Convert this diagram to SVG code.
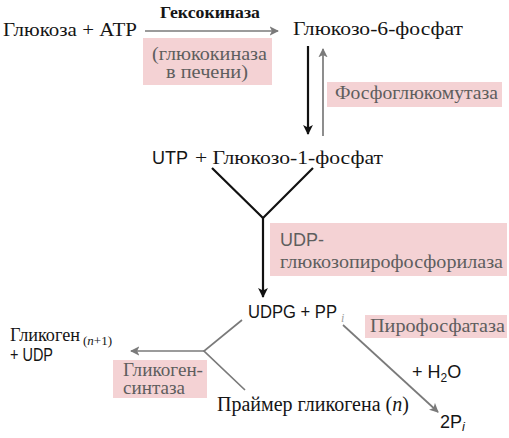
<svg xmlns="http://www.w3.org/2000/svg" width="509" height="438" viewBox="0 0 509 438">
<style>
.s{font-family:'Liberation Serif','Times New Roman',serif;font-size:19.5px;fill:#151515}
.ss{font-family:'Liberation Sans','DejaVu Sans',sans-serif;font-size:18px;fill:#151515}
.e{font-family:'Liberation Serif','Times New Roman',serif;font-size:18.5px;fill:#5e5e5e}
.es{font-family:'Liberation Sans','DejaVu Sans',sans-serif;font-size:18px;fill:#5e5e5e}
.box{fill:#f4d2d4}
.bk{stroke:#111;stroke-width:2.2;fill:none}
.gr{stroke:#7a7a7a;stroke-width:1.7;fill:none}
</style>
<defs>
<marker id="ab" viewBox="0 0 10 10" refX="9" refY="5" markerWidth="4.5" markerHeight="5" orient="auto" markerUnits="strokeWidth"><path d="M0,0 L10,5 L0,10 L2.5,5 z" fill="#111"/></marker>
<marker id="ag" viewBox="0 0 10 10" refX="9" refY="5" markerWidth="5.5" markerHeight="5.5" orient="auto" markerUnits="strokeWidth"><path d="M0,0 L10,5 L0,10 L2.5,5 z" fill="#7a7a7a"/></marker>
</defs>

<g id="connectors">
<line class="gr" x1="145" y1="31" x2="278" y2="31" marker-end="url(#ag)"/>
<line class="bk" x1="308" y1="46" x2="308" y2="134" marker-end="url(#ab)"/>
<line class="gr" x1="323" y1="136" x2="323" y2="49" marker-end="url(#ag)"/>
<polyline class="bk" points="212,168 263,218 313,168"/>
<line class="bk" x1="263" y1="217" x2="263" y2="297" marker-end="url(#ab)"/>
<polyline class="gr" points="242,320 204,351 245,390"/>
<line class="gr" x1="205" y1="351" x2="131" y2="351" marker-end="url(#ag)"/>
<line class="gr" x1="343" y1="325" x2="438" y2="412" marker-end="url(#ag)"/>
</g>

<g id="n-glucose-atp">
<text class="s" x="3" y="36" textLength="134" lengthAdjust="spacingAndGlyphs">Глюкоза + АТР</text>
</g>
<g id="e-hexokinase">
<text class="s" x="160" y="18" style="font-weight:bold;font-size:17px" textLength="100" lengthAdjust="spacingAndGlyphs">Гексокиназа</text>
</g>
<g id="e-glucokinase">
<rect class="box" x="143" y="38" width="129" height="47"/>
<text class="e" x="152" y="60" textLength="115" lengthAdjust="spacingAndGlyphs">(глюкокиназа</text>
<text class="e" x="166" y="78" textLength="82" lengthAdjust="spacingAndGlyphs">в печени)</text>
</g>
<g id="n-g6p">
<text class="s" x="293" y="35" textLength="170" lengthAdjust="spacingAndGlyphs">Глюкозо-6-фосфат</text>
</g>
<g id="e-pgm">
<rect class="box" x="327" y="82" width="175" height="25"/>
<text class="e" x="335" y="99" textLength="163" lengthAdjust="spacingAndGlyphs">Фосфоглюкомутаза</text>
</g>
<g id="n-utp-g1p">
<text class="ss" x="152" y="164" textLength="36" lengthAdjust="spacingAndGlyphs">UTP</text>
<text class="s" x="195" y="164" textLength="188" lengthAdjust="spacingAndGlyphs">+ Глюкозо-1-фосфат</text>
</g>
<g id="e-udpgpp">
<rect class="box" x="270" y="223" width="237" height="53"/>
<text class="es" x="280" y="246" textLength="44" lengthAdjust="spacingAndGlyphs">UDP-</text>
<text class="e" x="280" y="268" textLength="223" lengthAdjust="spacingAndGlyphs">глюкозопирофосфорилаза</text>
</g>
<g id="n-udpg-ppi">
<text class="ss" x="248" y="318" textLength="89" lengthAdjust="spacingAndGlyphs">UDPG + PP</text>
<text x="341" y="322" style="font-family:'Liberation Serif',serif;font-style:italic;font-size:12px;fill:#a0a0a0">i</text>
</g>
<g id="e-pyrophosphatase">
<rect class="box" x="365" y="315" width="142" height="23"/>
<text class="e" x="370" y="332" textLength="135" lengthAdjust="spacingAndGlyphs">Пирофосфатаза</text>
</g>
<g id="n-glycogen-udp">
<text class="s" x="10" y="341" style="font-size:18.5px" textLength="70" lengthAdjust="spacingAndGlyphs">Гликоген</text>
<text class="s" x="83" y="345" style="font-size:13px">(<tspan font-style="italic">n</tspan>+1)</text>
<text class="ss" x="10" y="361" textLength="43" lengthAdjust="spacingAndGlyphs">+ UDP</text>
</g>
<g id="e-glycogen-synthase">
<rect class="box" x="113" y="360" width="94" height="38"/>
<text class="e" x="123" y="376" textLength="80" lengthAdjust="spacingAndGlyphs">Гликоген-</text>
<text class="e" x="123" y="394" textLength="62" lengthAdjust="spacingAndGlyphs">синтаза</text>
</g>
<g id="n-primer">
<text class="s" x="217" y="411" style="font-size:20px">Праймер гликогена (<tspan font-style="italic">n</tspan>)</text>
</g>
<g id="n-h2o">
<text class="ss" x="412" y="378">+ H<tspan style="font-size:12px" dy="4">2</tspan><tspan dy="-4">O</tspan></text>
</g>
<g id="n-2pi">
<text class="ss" x="440" y="428">2P<tspan style="font-size:13px;font-style:italic" dy="3">i</tspan></text>
</g>
</svg>
